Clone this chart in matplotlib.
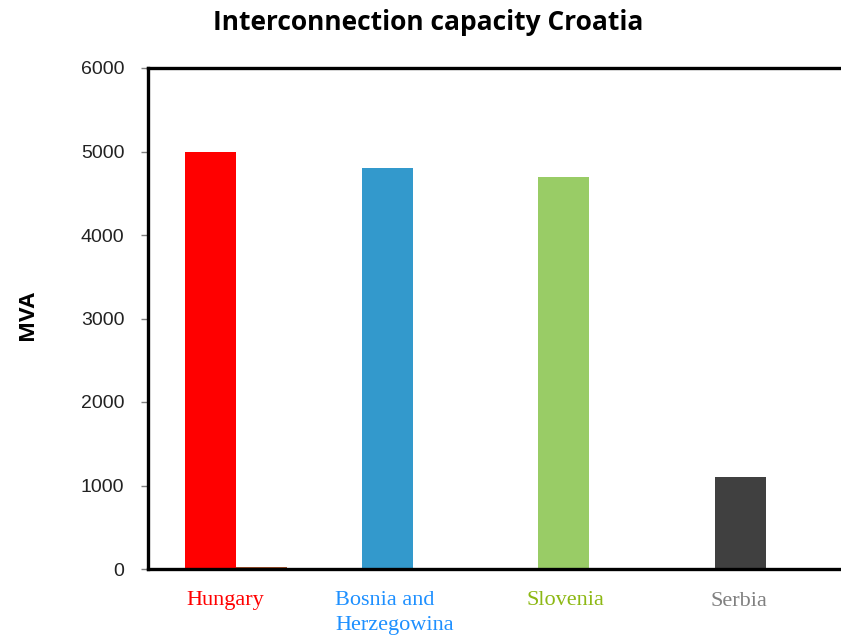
import matplotlib
matplotlib.use("Agg")
import matplotlib.pyplot as plt
import numpy as np

# Interconnection capacity per neighbouring country (MVA)
countries = ["Hungary", "Bosnia and\nHerzegowina", "Slovenia", "Serbia"]
capacity = [5000, 4800, 4700, 1100]
secondary = [20, 0, 0, 0]
bar_colors = ["#FF0000", "#3399CC", "#99CC66", "#404040"]
label_colors = ["#FF0000", "#1E90FF", "#8DB814", "#808080"]
yticks = [0, 1000, 2000, 3000, 4000, 5000, 6000]

fig = plt.figure(figsize=(8.41, 6.35), dpi=100)
ax = fig.add_axes([148 / 841, 66 / 635, 706 / 841, 501 / 635])

x = np.arange(len(countries))
w = 0.29
ax.bar(x - w / 2, capacity, width=w, color=bar_colors, zorder=2)
ax.bar(x + w / 2, secondary, width=w, color="#A0522D", zorder=2)

ax.set_xlim(-0.5, 3.5)
ax.set_ylim(0, 6000)
ax.set_yticks(yticks)
ax.set_yticklabels([str(v) for v in yticks], fontsize=14, family="Liberation Sans",
                   color="#222222")
ax.tick_params(axis="y", length=5, width=1, color="#808080", pad=12)
ax.set_xticks([])

for side in ["left", "top", "bottom"]:
    ax.spines[side].set_linewidth(2.4)
    ax.spines[side].set_color("black")
ax.spines["right"].set_visible(False)

# Category captions below the axis
offsets = [-0.065, -0.105, -0.135, -0.15]
drops = [-260, -260, -260, -280]
for i, (name, col, off, dy) in enumerate(zip(countries, label_colors, offsets, drops)):
    ax.text(x[i] + off, dy, name, color=col, fontsize=16,
            family="Liberation Serif", ha="center", va="top",
            multialignment="left", linespacing=1.45, clip_on=False)

ax.set_ylabel("MVA", fontsize=16, fontweight="bold", family="Open Sans")
ax.yaxis.set_label_coords(-0.156, 0.507)
fig.text(428 / 841, 1 - 22 / 635, "Interconnection capacity Croatia",
         fontsize=19, fontweight="bold", family="Open Sans",
         ha="center", va="center")

fig.savefig("out.png", dpi=100)
